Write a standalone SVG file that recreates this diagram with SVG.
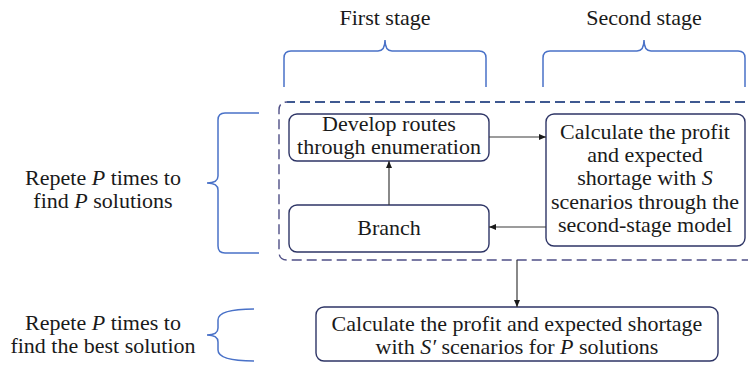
<svg xmlns="http://www.w3.org/2000/svg" width="748" height="365" viewBox="0 0 748 365">
<defs>
<style>
text{font-family:"Liberation Serif","Times New Roman",serif;font-size:22px;fill:#1a1a1a;text-anchor:middle}
.i{font-style:italic}
.box{fill:#fff;stroke:#2e3566;stroke-width:1.4}
.brace{fill:none;stroke:#4a72c8;stroke-width:1.5}
.conn{stroke:#3a3a3a;stroke-width:1.2;fill:none;marker-end:url(#ah)}
</style>
<marker id="ah" markerWidth="8" markerHeight="8" refX="7" refY="4" orient="auto" markerUnits="userSpaceOnUse">
<path d="M0,1 L7,4 L0,7 Z" fill="#1a1a1a"/>
</marker>
</defs>
<rect width="748" height="365" fill="#fff"/>

<g id="labels">
<text x="385" y="25">First stage</text>
<text x="644" y="25">Second stage</text>
<text x="103" y="185">Repete <tspan class="i">P</tspan> times  to</text>
<text x="103" y="208">find <tspan class="i">P</tspan> solutions</text>
<text x="103" y="330">Repete <tspan class="i">P</tspan> times  to</text>
<text x="103" y="353">find the best solution</text>
</g>

<g id="braces">
<path class="brace" d="M284,87 V58 Q284,51 291,51 H378 Q385,51 385,40 Q385,51 392,51 H479 Q486,51 486,58 V87"/>
<path class="brace" d="M543,87 V58 Q543,51 550,51 H637 Q644,51 644,40 Q644,51 651,51 H738 Q745,51 745,58 V87"/>
<path class="brace" d="M259,113 H225 Q218,113 218,120 V176 Q218,183 207,183 Q218,183 218,190 V246 Q218,253 225,253 H259"/>
<path class="brace" d="M254,309 Q218,309 218,320 V328 Q218,335 207,335 Q218,335 218,342 V350 Q218,361 254,361"/>
</g>

<g id="group-dashed">
<path d="M760,102 H287 Q279,102 279,110 V252 Q279,260 287,260 H760" fill="none" stroke="#4f4f86" stroke-width="1.4" stroke-dasharray="10 5"/>
<path d="M760,102 H287" fill="none" stroke="#2d4f8a" stroke-width="1.4" stroke-dasharray="10 5"/>
</g>

<g id="node-develop">
<rect class="box" x="289" y="114" width="200" height="47" rx="8" stroke="#4a3060"/>
<text x="389" y="131" font-size="21">Develop routes</text>
<text x="389" y="154" font-size="21">through enumeration</text>
</g>

<g id="node-branch">
<rect class="box" x="289" y="205" width="200" height="47" rx="8"/>
<text x="389" y="235">Branch</text>
</g>

<g id="node-calc">
<rect class="box" x="546" y="114" width="199" height="132" rx="8"/>
<text x="645" y="139">Calculate the profit</text>
<text x="645" y="162">and expected</text>
<text x="645" y="185">shortage with <tspan class="i">S</tspan></text>
<text x="645" y="209">scenarios through the</text>
<text x="645" y="232">second-stage model</text>
</g>

<g id="node-final">
<rect class="box" x="316" y="307" width="402" height="54" rx="8"/>
<text x="517" y="331">Calculate the profit and expected shortage</text>
<text x="517" y="354">with <tspan class="i">S′</tspan> scenarios for <tspan class="i">P</tspan> solutions</text>
</g>

<g id="connectors">
<line class="conn" x1="489" y1="137" x2="546" y2="137" stroke="#8a4a45"/>
<line class="conn" x1="389" y1="205" x2="389" y2="161"/>
<line class="conn" x1="546" y1="227" x2="489" y2="227"/>
<line class="conn" x1="517" y1="260" x2="517" y2="307"/>
</g>
</svg>
